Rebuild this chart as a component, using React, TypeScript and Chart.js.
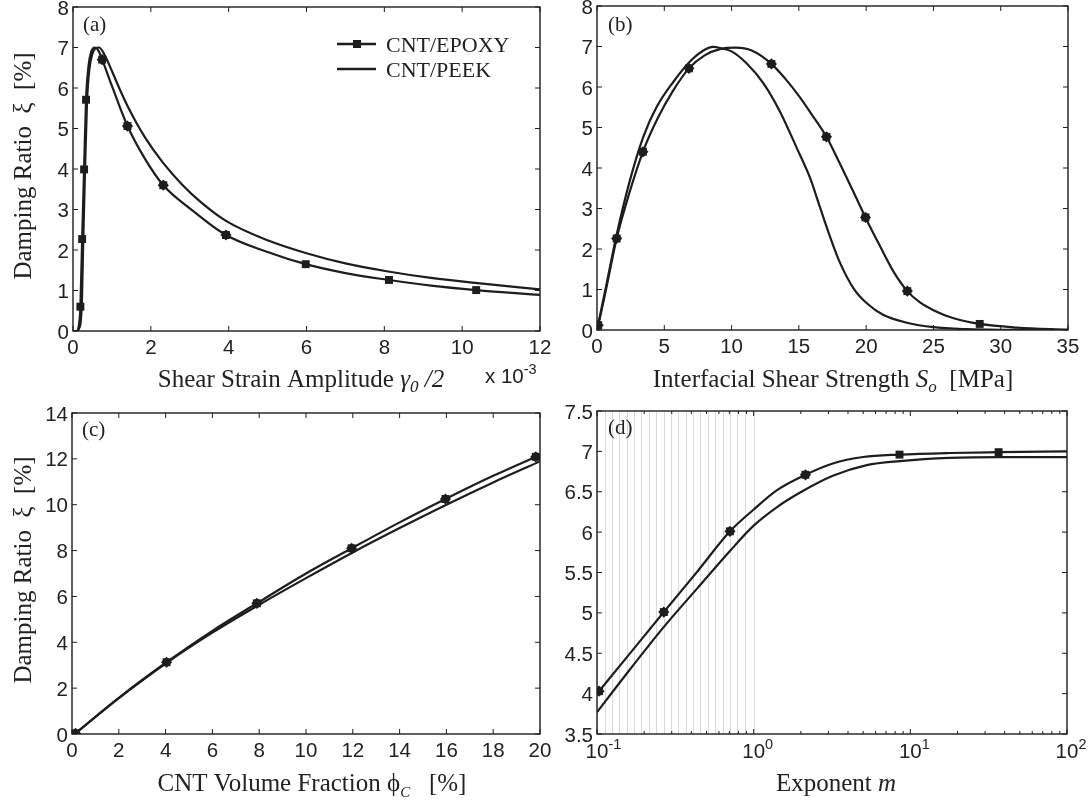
import React, { useEffect, useRef } from 'react';
import { Chart, registerables } from 'chart.js';
Chart.register(...registerables);

const W = 1092;
const H = 808;
const INK = '#1d1d1d';
const TXT = '#222222';
const SANS = '"Liberation Sans", Arial, Helvetica, sans-serif';
const SERIF = '"Liberation Serif", "Times New Roman", Times, serif';

// ---------------- Panel (a) ----------------
const A_X_TICKS = [0, 2, 4, 6, 8, 10, 12];
const A_X_LABELS = ['0', '2', '4', '6', '8', '10', '12'];
const A_Y_TICKS = [0, 1, 2, 3, 4, 5, 6, 7, 8];
const A_Y_LABELS = ['0', '1', '2', '3', '4', '5', '6', '7', '8'];
const A_EPOXY_X = [0, 0.1, 0.14, 0.19, 0.235, 0.285, 0.335, 0.4, 0.47, 0.56, 0.65, 0.75, 1.0, 1.4, 1.85, 2.32, 3.0, 3.93, 5.0, 5.98, 7.0, 8.12, 9.2, 10.36, 12.0];
const A_EPOXY_Y = [0, 0, 0.08, 0.6, 2.27, 3.99, 5.71, 6.55, 6.9, 7.0, 6.93, 6.7, 6.05, 5.06, 4.25, 3.6, 3.03, 2.37, 1.95, 1.65, 1.43, 1.26, 1.12, 1.01, 0.89];
const A_EPOXY_MX = [0.19, 0.235, 0.285, 0.335, 0.75, 1.4, 2.32, 3.93, 5.98, 8.12, 10.36];
const A_EPOXY_MY = [0.6, 2.27, 3.99, 5.71, 6.7, 5.06, 3.6, 2.37, 1.65, 1.26, 1.01];
const A_PEEK_X = [0, 0.1, 0.15, 0.2, 0.23, 0.265, 0.31, 0.36, 0.42, 0.5, 0.58, 0.67, 0.8, 1.0, 1.21, 1.43, 1.85, 2.3, 2.8, 3.3, 3.93, 5.0, 6.0, 7.0, 8.1, 9.2, 10.4, 12.0];
const A_PEEK_Y = [0, 0, 0.05, 0.25, 0.75, 2.3, 4.0, 5.65, 6.45, 6.85, 6.98, 7.0, 6.84, 6.42, 5.95, 5.5, 4.78, 4.17, 3.62, 3.17, 2.72, 2.24, 1.92, 1.67, 1.47, 1.31, 1.18, 1.03];

// ---------------- Panel (b) ----------------
const B_X_TICKS = [0, 5, 10, 15, 20, 25, 30, 35];
const B_X_LABELS = ['0', '5', '10', '15', '20', '25', '30', '35'];
const B_Y_TICKS = [0, 1, 2, 3, 4, 5, 6, 7, 8];
const B_Y_LABELS = ['0', '1', '2', '3', '4', '5', '6', '7', '8'];
const B_EPOXY_X = [0, 0.09, 0.72, 1.46, 2.4, 3.41, 4.5, 5.6, 6.83, 8.0, 9.2, 10.3, 11.5, 12.96, 14.0, 15.0, 16.0, 17.05, 18.0, 19.0, 19.95, 21.0, 22.0, 23.06, 24.0, 25.0, 26.5, 28.44, 31.2, 33.7, 35];
const B_EPOXY_Y = [0, 0.12, 1.08, 2.26, 3.38, 4.4, 5.22, 5.88, 6.46, 6.78, 6.94, 6.97, 6.9, 6.57, 6.2, 5.78, 5.3, 4.77, 4.14, 3.45, 2.78, 2.09, 1.46, 0.96, 0.68, 0.49, 0.29, 0.15, 0.06, 0.02, 0.01];
const B_EPOXY_MX = [0.09, 1.46, 3.41, 6.83, 12.96, 17.05, 19.95, 23.06, 28.44];
const B_EPOXY_MY = [0.12, 2.26, 4.4, 6.46, 6.57, 4.77, 2.78, 0.96, 0.15];
const B_PEEK_X = [0, 0.72, 1.46, 2.45, 3.44, 4.44, 5.68, 6.91, 8.0, 8.6, 9.3, 10.0, 11.13, 12.37, 13.6, 14.85, 15.84, 16.58, 17.32, 18.07, 19.06, 20.05, 21.29, 23.03, 25.0, 27.5, 30, 35];
const B_PEEK_Y = [0, 1.15, 2.35, 3.7, 4.77, 5.51, 6.13, 6.63, 6.92, 6.99, 6.95, 6.88, 6.58, 6.09, 5.39, 4.49, 3.75, 3.02, 2.3, 1.65, 1.03, 0.66, 0.37, 0.18, 0.07, 0.02, 0.005, 0];

// ---------------- Panel (c) ----------------
const C_X_TICKS = [0, 2, 4, 6, 8, 10, 12, 14, 16, 18, 20];
const C_X_LABELS = ['0', '2', '4', '6', '8', '10', '12', '14', '16', '18', '20'];
const C_Y_TICKS = [0, 2, 4, 6, 8, 10, 12, 14];
const C_Y_LABELS = ['0', '2', '4', '6', '8', '10', '12', '14'];
const C_EPOXY_X = [0.15, 2, 4.04, 6, 7.9, 10, 11.95, 14, 15.96, 18, 19.82, 20];
const C_EPOXY_Y = [0.03, 1.58, 3.13, 4.5, 5.7, 7.0, 8.1, 9.23, 10.25, 11.26, 12.09, 12.17];
const C_EPOXY_MX = [0.15, 4.04, 7.9, 11.95, 15.96, 19.82];
const C_EPOXY_MY = [0.03, 3.13, 5.7, 8.1, 10.25, 12.09];
const C_PEEK_X = [0.15, 2, 4, 6, 8, 10, 12, 14, 16, 18, 20];
const C_PEEK_Y = [0.03, 1.56, 3.07, 4.42, 5.64, 6.8, 7.92, 8.98, 10.0, 10.97, 11.89];

// ---------------- Panel (d) ----------------
const D_X_TICKS = [0.1, 1, 10, 100];
const D_X_EXPONENTS = ['-1', '0', '1', '2'];
const D_X_MINOR = [0.2, 0.3, 0.4, 0.5, 0.6, 0.7, 0.8, 0.9, 2, 3, 4, 5, 6, 7, 8, 9, 20, 30, 40, 50, 60, 70, 80, 90];
const D_Y_TICKS = [3.5, 4, 4.5, 5, 5.5, 6, 6.5, 7, 7.5];
const D_Y_LABELS = ['3.5', '4', '4.5', '5', '5.5', '6', '6.5', '7', '7.5'];
const D_GREY = [0.1, 0.112, 0.124, 0.139, 0.155, 0.172, 0.192, 0.214, 0.239, 0.266, 0.296, 0.33, 0.368, 0.41, 0.457, 0.51, 0.568, 0.633, 0.706, 0.787, 0.877, 1.0];
const D_EPOXY_X = [0.1, 0.158, 0.267, 0.436, 0.706, 1.0, 1.41, 2.14, 3.2, 5.0, 8.53, 17.9, 36.6, 100];
const D_EPOXY_Y = [4.0, 4.47, 5.01, 5.51, 6.01, 6.28, 6.52, 6.71, 6.85, 6.93, 6.96, 6.98, 6.99, 7.0];
const D_EPOXY_MX = [0.103, 0.267, 0.706, 2.14, 8.53, 36.6];
const D_EPOXY_MY = [4.03, 5.01, 6.01, 6.71, 6.96, 6.99];
const D_PEEK_X = [0.1, 0.148, 0.268, 0.435, 0.708, 1.0, 1.41, 1.98, 3.23, 5.27, 8.61, 17.9, 37.2, 100];
const D_PEEK_Y = [3.77, 4.2, 4.83, 5.3, 5.77, 6.08, 6.31, 6.49, 6.7, 6.83, 6.88, 6.92, 6.93, 6.93];

const SERIES_NAMES = ['CNT/EPOXY', 'CNT/PEEK'];

// ---------------- styling ----------------
const TICK_SIZE = 20.5;
const SUP_SIZE = 14.5;
const TITLE_SIZE = 25;
const SUB_SIZE = 17;
const LEGEND_SIZE = 22;
const PANEL_SIZE = 21;

type Seg = { t: string; size: number; italic?: boolean; dy?: number; sans?: boolean };

interface PanelCfg {
  area: [number, number, number, number];
  xType: 'linear' | 'logarithmic';
  xMin: number; xMax: number; yMin: number; yMax: number;
  xTicks: number[]; xLabels: string[]; xPow?: boolean; xMinor?: number[];
  yTicks: number[]; yLabels: string[];
  epoxy: [number[], number[]]; peek: [number[], number[]];
  marks: [number[], number[]]; diamonds: number[];
  label: string; labelPos: [number, number];
  xTitle: Seg[]; xTitlePos: [number, number];
  yTitle?: Seg[]; yTitlePos?: [number, number];
  legend?: boolean; grey?: number[]; expLabel?: boolean;
}

const Y_TITLE: Seg[] = [{ t: 'Damping Ratio  ξ  [%]', size: TITLE_SIZE }];

const PANELS: PanelCfg[] = [
  {
    area: [73, 7, 540, 331], xType: 'linear', xMin: 0, xMax: 12, yMin: 0, yMax: 8,
    xTicks: A_X_TICKS, xLabels: A_X_LABELS, yTicks: A_Y_TICKS, yLabels: A_Y_LABELS,
    epoxy: [A_EPOXY_X, A_EPOXY_Y], peek: [A_PEEK_X, A_PEEK_Y], marks: [A_EPOXY_MX, A_EPOXY_MY], diamonds: [4, 5, 6, 7],
    label: '(a)', labelPos: [83, 31],
    xTitle: [
      { t: 'Shear Strain Amplitude ', size: TITLE_SIZE },
      { t: 'γ', size: TITLE_SIZE, italic: true },
      { t: '0', size: SUB_SIZE, italic: true, dy: 5 },
      { t: ' /2', size: TITLE_SIZE, italic: true },
    ],
    xTitlePos: [301, 387],
    yTitle: Y_TITLE, yTitlePos: [31, 166], legend: true, expLabel: true,
  },
  {
    area: [597, 6, 1068, 330], xType: 'linear', xMin: 0, xMax: 35, yMin: 0, yMax: 8,
    xTicks: B_X_TICKS, xLabels: B_X_LABELS, yTicks: B_Y_TICKS, yLabels: B_Y_LABELS,
    epoxy: [B_EPOXY_X, B_EPOXY_Y], peek: [B_PEEK_X, B_PEEK_Y], marks: [B_EPOXY_MX, B_EPOXY_MY], diamonds: [0, 1, 2, 3, 4, 5, 6, 7],
    label: '(b)', labelPos: [608, 31],
    xTitle: [
      { t: 'Interfacial Shear Strength ', size: TITLE_SIZE },
      { t: 'S', size: TITLE_SIZE, italic: true },
      { t: 'o', size: SUB_SIZE, italic: true, dy: 5 },
      { t: '  [MPa]', size: TITLE_SIZE },
    ],
    xTitlePos: [833, 387],
  },
  {
    area: [72, 413, 540, 734], xType: 'linear', xMin: 0, xMax: 20, yMin: 0, yMax: 14,
    xTicks: C_X_TICKS, xLabels: C_X_LABELS, yTicks: C_Y_TICKS, yLabels: C_Y_LABELS,
    epoxy: [C_EPOXY_X, C_EPOXY_Y], peek: [C_PEEK_X, C_PEEK_Y], marks: [C_EPOXY_MX, C_EPOXY_MY], diamonds: [0, 1, 2, 3, 4, 5],
    label: '(c)', labelPos: [82, 436],
    xTitle: [
      { t: 'CNT Volume Fraction ϕ', size: TITLE_SIZE },
      { t: 'C', size: 15, italic: true, dy: 6 },
      { t: '   [%]', size: TITLE_SIZE },
    ],
    xTitlePos: [312, 791],
    yTitle: Y_TITLE, yTitlePos: [31, 570],
  },
  {
    area: [597, 411, 1067, 734], xType: 'logarithmic', xMin: 0.1, xMax: 100, yMin: 3.5, yMax: 7.5,
    xTicks: D_X_TICKS, xLabels: D_X_EXPONENTS, xPow: true, xMinor: D_X_MINOR, yTicks: D_Y_TICKS, yLabels: D_Y_LABELS,
    epoxy: [D_EPOXY_X, D_EPOXY_Y], peek: [D_PEEK_X, D_PEEK_Y], marks: [D_EPOXY_MX, D_EPOXY_MY], diamonds: [0, 1, 2, 3],
    label: '(d)', labelPos: [608, 434],
    xTitle: [
      { t: 'Exponent ', size: TITLE_SIZE },
      { t: 'm', size: TITLE_SIZE, italic: true },
    ],
    xTitlePos: [836, 791], grey: D_GREY,
  },
];

function fontOf(s: Seg) {
  return `${s.italic ? 'italic ' : ''}${s.size}px ${s.sans ? SANS : SERIF}`;
}

function drawSegs(ctx: CanvasRenderingContext2D, segs: Seg[], x: number, y: number, align: 'left' | 'center' | 'right') {
  ctx.textAlign = 'left';
  ctx.textBaseline = 'alphabetic';
  const ws = segs.map((s) => { ctx.font = fontOf(s); return ctx.measureText(s.t).width; });
  const total = ws.reduce((a, b) => a + b, 0);
  let cx = align === 'center' ? x - total / 2 : align === 'right' ? x - total : x;
  segs.forEach((s, i) => {
    ctx.font = fontOf(s);
    ctx.fillText(s.t, cx, y + (s.dy || 0));
    cx += ws[i];
  });
}

function decor(p: PanelCfg) {
  return {
    id: 'decor',
    beforeDatasetsDraw(chart: any) {
      if (!p.grey) return;
      const ctx: CanvasRenderingContext2D = chart.ctx;
      const a = chart.chartArea;
      const xs = chart.scales.x;
      ctx.save();
      ctx.strokeStyle = '#d9d9d9';
      ctx.lineWidth = 1;
      p.grey.forEach((v) => {
        const px = Math.round(xs.getPixelForValue(v)) + 0.5;
        ctx.beginPath();
        ctx.moveTo(px, a.top);
        ctx.lineTo(px, a.bottom);
        ctx.stroke();
      });
      ctx.restore();
    },
    afterDatasetsDraw(chart: any) {
      const ctx: CanvasRenderingContext2D = chart.ctx;
      const a = chart.chartArea;
      const xs = chart.scales.x;
      const ys = chart.scales.y;
      ctx.save();
      ctx.strokeStyle = INK;
      ctx.lineWidth = 1.4;
      ctx.strokeRect(a.left, a.top, a.right - a.left, a.bottom - a.top);
      const L = 5;
      const Lm = 3;
      ctx.lineWidth = 1;
      ctx.beginPath();
      p.xTicks.forEach((v) => {
        const px = xs.getPixelForValue(v);
        ctx.moveTo(px, a.bottom); ctx.lineTo(px, a.bottom - L);
        ctx.moveTo(px, a.top); ctx.lineTo(px, a.top + L);
      });
      (p.xMinor || []).forEach((v) => {
        const px = xs.getPixelForValue(v);
        ctx.moveTo(px, a.bottom); ctx.lineTo(px, a.bottom - Lm);
        ctx.moveTo(px, a.top); ctx.lineTo(px, a.top + Lm);
      });
      p.yTicks.forEach((v) => {
        const py = ys.getPixelForValue(v);
        ctx.moveTo(a.left, py); ctx.lineTo(a.left + L, py);
        ctx.moveTo(a.right, py); ctx.lineTo(a.right - L, py);
      });
      ctx.stroke();

      ctx.fillStyle = TXT;
      p.xTicks.forEach((v, i) => {
        const px = xs.getPixelForValue(v);
        if (p.xPow) {
          ctx.font = `${TICK_SIZE}px ${SANS}`;
          const w10 = ctx.measureText('10').width;
          drawSegs(ctx, [{ t: '10', size: TICK_SIZE, sans: true }, { t: p.xLabels[i], size: SUP_SIZE, sans: true, dy: -9 }], px - w10 / 2, a.bottom + 24, 'left');
        } else {
          drawSegs(ctx, [{ t: p.xLabels[i], size: TICK_SIZE, sans: true }], px, a.bottom + 23, 'center');
        }
      });
      p.yTicks.forEach((v, i) => {
        const py = ys.getPixelForValue(v);
        drawSegs(ctx, [{ t: p.yLabels[i], size: TICK_SIZE, sans: true }], a.left - 4, py + 7.5, 'right');
      });
      drawSegs(ctx, [{ t: p.label, size: PANEL_SIZE }], p.labelPos[0], p.labelPos[1], 'left');
      drawSegs(ctx, p.xTitle, p.xTitlePos[0], p.xTitlePos[1], 'center');
      if (p.yTitle && p.yTitlePos) {
        ctx.save();
        ctx.translate(p.yTitlePos[0], p.yTitlePos[1]);
        ctx.rotate(-Math.PI / 2);
        drawSegs(ctx, p.yTitle, 0, 0, 'center');
        ctx.restore();
      }
      if (p.expLabel) {
        drawSegs(ctx, [{ t: 'x 10', size: TICK_SIZE, sans: true }, { t: '-3', size: SUP_SIZE, sans: true, dy: -9 }], 485, 383, 'left');
      }
      if (p.legend) {
        const x0 = 337, x1 = 376;
        const rows = [44, 69];
        ctx.strokeStyle = INK;
        ctx.lineWidth = 2.3;
        rows.forEach((yy, i) => {
          ctx.beginPath();
          ctx.moveTo(x0, yy); ctx.lineTo(x1, yy);
          ctx.stroke();
          if (i === 0) {
            ctx.fillStyle = INK;
            ctx.fillRect(357 - 4, yy - 4, 8, 8);
          }
          ctx.fillStyle = TXT;
          drawSegs(ctx, [{ t: SERIES_NAMES[i], size: LEGEND_SIZE }], 386, yy + 7.5, 'left');
        });
      }
      ctx.restore();
    },
  };
}

function pts(xs: number[], ys: number[]) {
  return xs.map((x, i) => ({ x, y: ys[i] }));
}

function Panel({ cfg }: { cfg: PanelCfg }) {
  const ref = useRef<HTMLCanvasElement | null>(null);
  useEffect(() => {
    if (!ref.current) return;
    const [l, t, r, b] = cfg.area;
    const marks = pts(cfg.marks[0], cfg.marks[1]);
    const diamonds = marks.filter((_, i) => cfg.diamonds.includes(i));
    const lineStyle = {
      showLine: true, borderColor: INK, borderWidth: 2.2, pointRadius: 0,
      cubicInterpolationMode: 'monotone' as const, fill: false,
    };
    const chart = new Chart(ref.current, {
      type: 'scatter',
      data: {
        datasets: [
          { label: 'diamond', data: diamonds, showLine: false, pointStyle: 'rectRot', pointRadius: 5.6, pointBackgroundColor: INK, pointBorderColor: INK, pointBorderWidth: 0 },
          { label: SERIES_NAMES[0] + ' markers', data: marks, showLine: false, pointStyle: 'rect', pointRadius: 5.6, pointBackgroundColor: INK, pointBorderColor: INK, pointBorderWidth: 0 },
          { label: SERIES_NAMES[0], data: pts(cfg.epoxy[0], cfg.epoxy[1]), ...lineStyle },
          { label: SERIES_NAMES[1], data: pts(cfg.peek[0], cfg.peek[1]), ...lineStyle },
        ] as any,
      },
      options: {
        animation: false,
        responsive: false,
        events: [],
        layout: { padding: { left: l, top: t, right: W - r, bottom: H - b } },
        scales: {
          x: { type: cfg.xType, display: false, min: cfg.xMin, max: cfg.xMax },
          y: { type: 'linear', display: false, min: cfg.yMin, max: cfg.yMax },
        },
        plugins: { legend: { display: false }, tooltip: { enabled: false } },
      } as any,
      plugins: [decor(cfg) as any],
    });
    return () => chart.destroy();
  }, [cfg]);
  return <canvas ref={ref} width={W} height={H} style={{ position: 'absolute', left: 0, top: 0, width: W, height: H }} />;
}

export default function App() {
  return (
    <div style={{ position: 'absolute', left: 0, top: 0, width: W, height: H, background: '#ffffff', overflow: 'hidden' }}>
      {PANELS.map((p, i) => (
        <Panel key={i} cfg={p} />
      ))}
    </div>
  );
}
